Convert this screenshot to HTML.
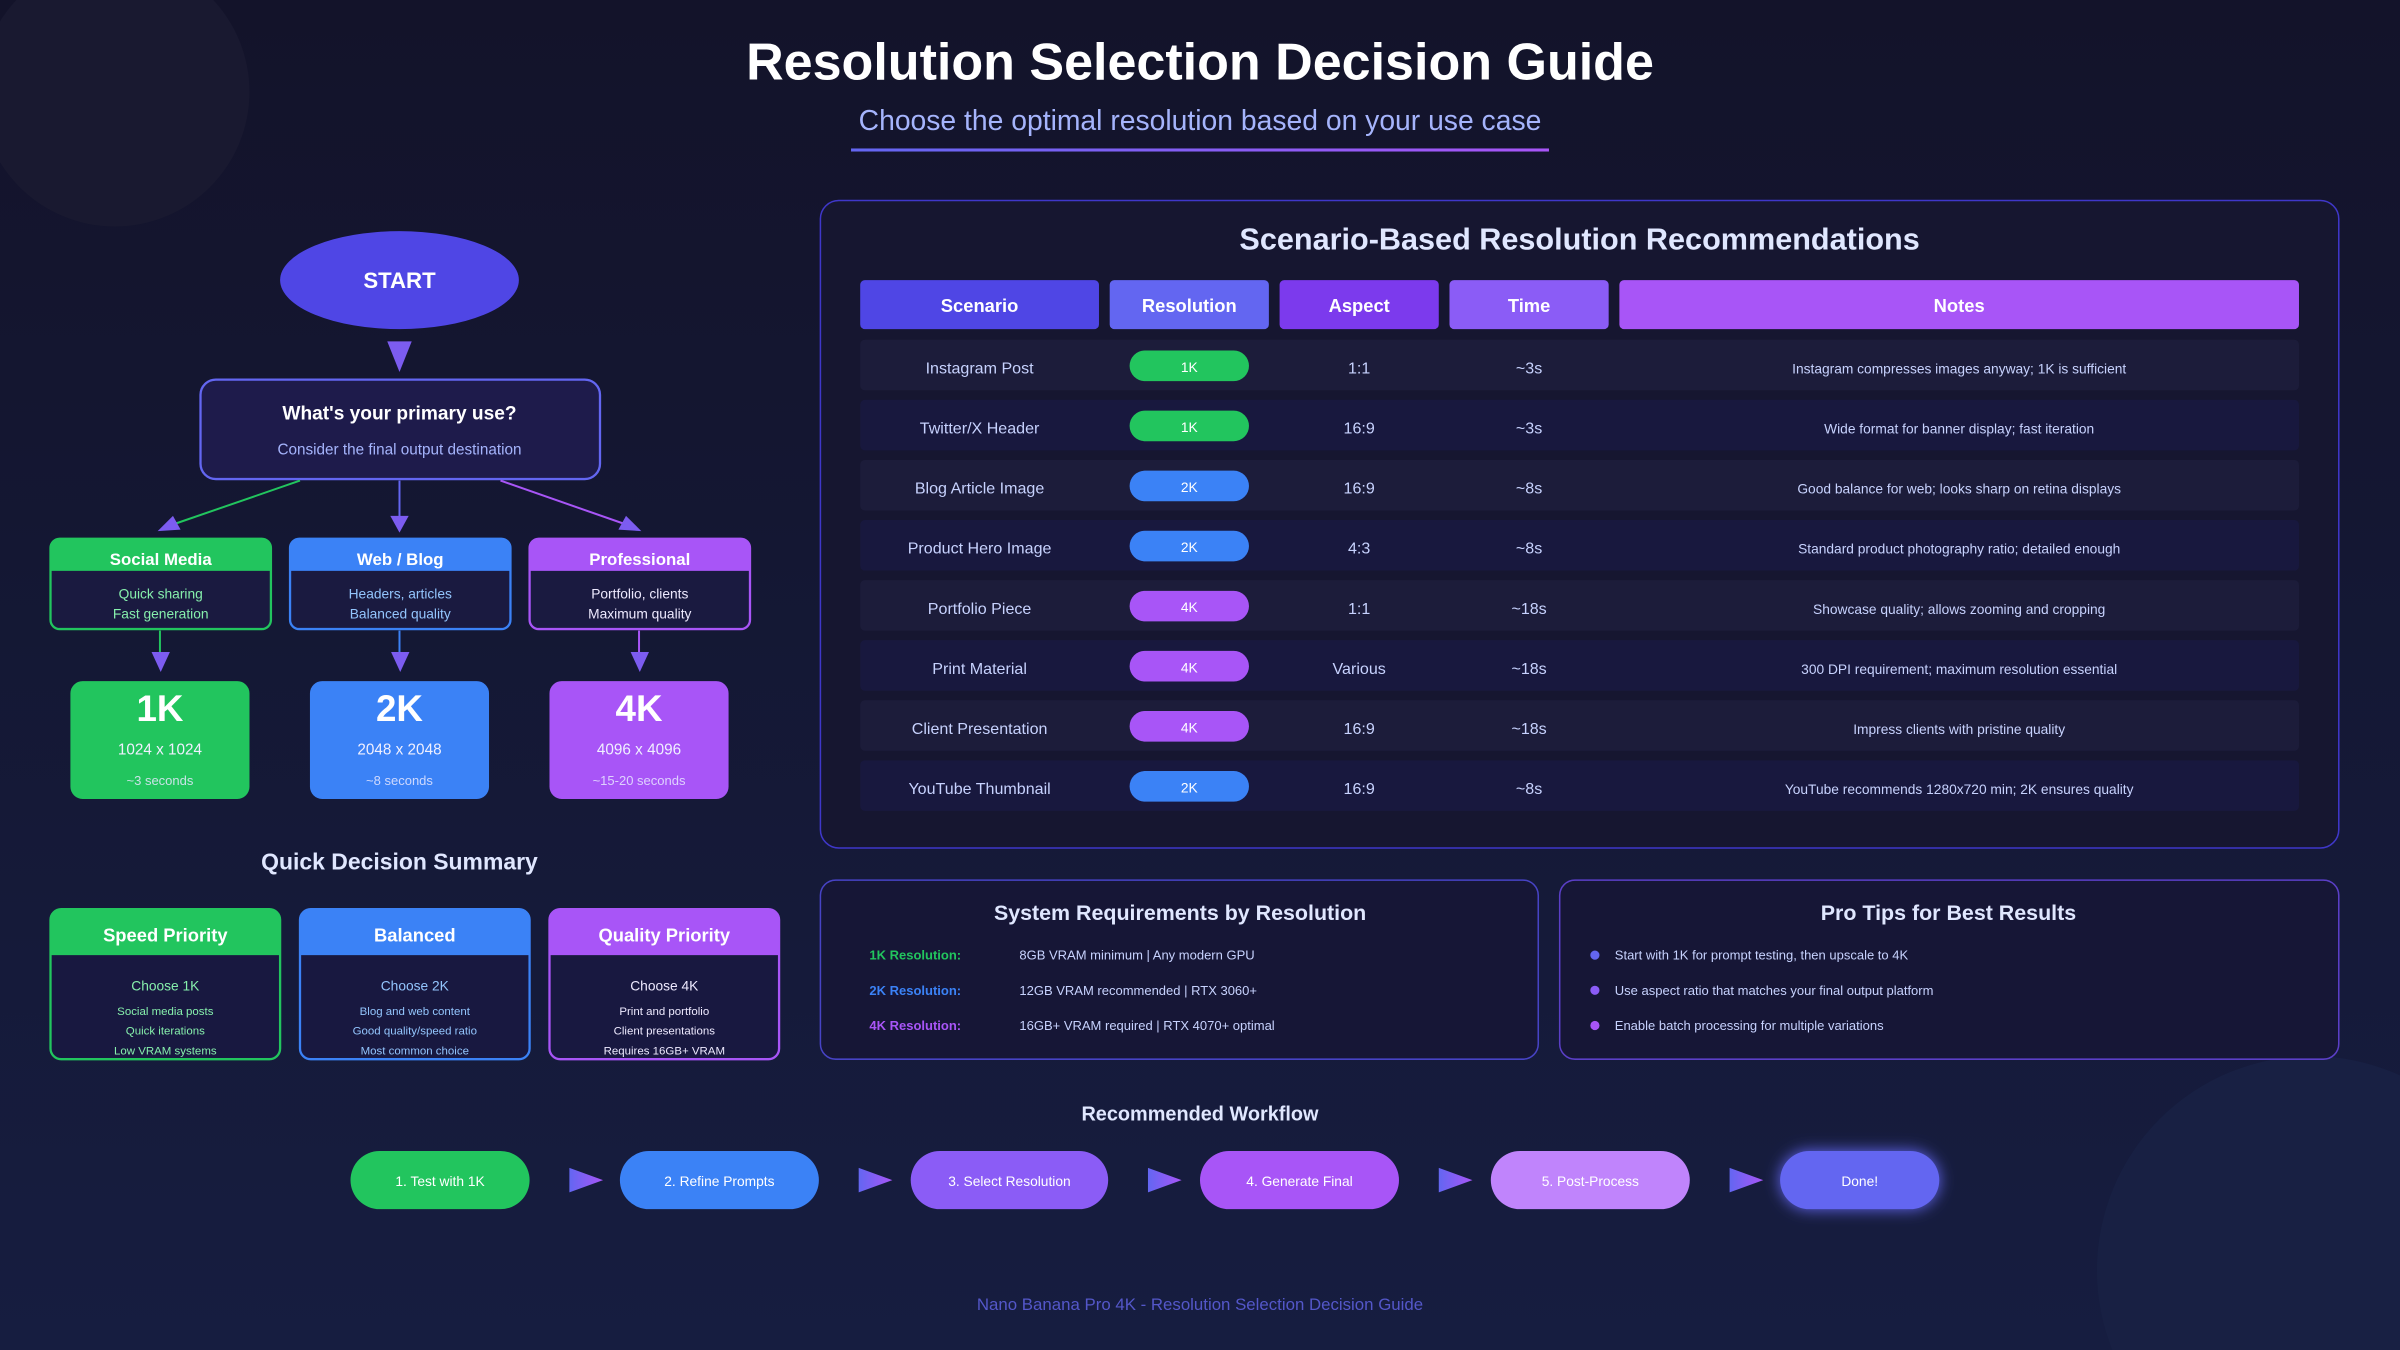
<!DOCTYPE html>
<html><head><meta charset="utf-8"><style>
html,body{margin:0;padding:0;background:#14142c;width:2400px;height:1350px;overflow:hidden;}
svg{display:block;font-family:"Liberation Sans",sans-serif;}
</style></head><body>
<svg id="root" width="2400" height="1350" viewBox="0 0 1568 882" xmlns="http://www.w3.org/2000/svg">
<defs>
<linearGradient id="bg" x1="0" y1="0" x2="0" y2="1"><stop offset="0" stop-color="#13132a"/><stop offset="1" stop-color="#161d40"/></linearGradient>
<linearGradient id="ul" x1="0" x2="1"><stop offset="0" stop-color="#6366f1"/><stop offset="1" stop-color="#a855f7"/></linearGradient>
<linearGradient id="arr" x1="0" x2="1"><stop offset="0" stop-color="#6366f1"/><stop offset="1" stop-color="#a855f7"/></linearGradient>
<filter id="glow" x="-50%" y="-50%" width="200%" height="200%"><feGaussianBlur stdDeviation="5"/></filter>
</defs>
<rect width="1568" height="882" fill="url(#bg)"/>
<circle cx="75" cy="60" r="88" fill="#191930"/>
<circle cx="1510" cy="830" r="140" fill="#182043"/>

<text x="784" y="52" text-anchor="middle" font-size="34" font-weight="bold" fill="#fff">Resolution Selection Decision Guide</text>
<text x="784" y="85" text-anchor="middle" font-size="18.5" fill="#a5b4fc">Choose the optimal resolution based on your use case</text>
<rect x="556" y="97" width="456" height="2" fill="url(#ul)"/>

<g>
<ellipse cx="261" cy="183" rx="78" ry="32" fill="#4f46e5"/>
<text x="261" y="188" text-anchor="middle" font-size="14.5" font-weight="bold" fill="#fff">START</text>
<polygon points="253,223 269,223 261,243" fill="#7c5cf0"/>
<rect x="131" y="248" width="261" height="65" rx="10" fill="#1e1b4b" stroke="#6366f1" stroke-width="1.5"/>
<text x="261" y="274" text-anchor="middle" font-size="12.5" font-weight="bold" fill="#fff">What's your primary use?</text>
<text x="261" y="297" text-anchor="middle" font-size="10" fill="#a5b4fc">Consider the final output destination</text>
<line x1="196" y1="314" x2="112" y2="343" stroke="#22c55e" stroke-width="1.3"/>
<polygon points="103,347 113,337 118,346" fill="#7c5cf0"/>
<line x1="261" y1="314" x2="261" y2="338" stroke="#6366f1" stroke-width="1.3"/>
<polygon points="255,337 267,337 261,348" fill="#7c5cf0"/>
<line x1="327" y1="314" x2="410" y2="343" stroke="#a855f7" stroke-width="1.3"/>
<polygon points="419,347 409,337 404,346" fill="#7c5cf0"/>
</g>
<g id="cats"></g>
<text x="261" y="568" text-anchor="middle" font-size="15" font-weight="bold" fill="#e0e7ff">Quick Decision Summary</text>
<g id="summ"></g>

<rect x="536" y="131" width="992" height="423" rx="12" fill="#161630" stroke="#3f37c9" stroke-width="1"/>
<text x="1032" y="163" text-anchor="middle" font-size="20" font-weight="bold" fill="#e0e7ff">Scenario-Based Resolution Recommendations</text>
<g id="tbl"></g>

<rect x="536" y="575" width="469" height="117" rx="10" fill="#161636" stroke="#4743c5"/>
<text x="771" y="601" text-anchor="middle" font-size="14" font-weight="bold" fill="#e0e7ff">System Requirements by Resolution</text>
<g id="sys"></g>
<rect x="1019" y="575" width="509" height="117" rx="10" fill="#161636" stroke="#5b3fc7"/>
<text x="1273" y="601" text-anchor="middle" font-size="14" font-weight="bold" fill="#e0e7ff">Pro Tips for Best Results</text>
<g id="tips"></g>

<text x="784" y="732" text-anchor="middle" font-size="13" font-weight="bold" fill="#e0e7ff">Recommended Workflow</text>
<g id="flow"></g>
<text x="784" y="856" text-anchor="middle" font-size="11" fill="#5457c9">Nano Banana Pro 4K - Resolution Selection Decision Guide</text>
</svg>
<script>
const NS="http://www.w3.org/2000/svg";
function mk(p,tag,a,txt){const e=document.createElementNS(NS,tag);for(const k in a)e.setAttribute(k,a[k]);if(txt!==undefined)e.textContent=txt;p.appendChild(e);return e;}
const scenarios=["Instagram Post","Twitter/X Header","Blog Article Image","Product Hero Image","Portfolio Piece","Print Material","Client Presentation","YouTube Thumbnail"];
const resolutions=["1K","1K","2K","2K","4K","4K","4K","2K"];
const aspects=["1:1","16:9","16:9","4:3","1:1","Various","16:9","16:9"];
const times=["~3s","~3s","~8s","~8s","~18s","~18s","~18s","~8s"];
const notes=["Instagram compresses images anyway; 1K is sufficient","Wide format for banner display; fast iteration","Good balance for web; looks sharp on retina displays","Standard product photography ratio; detailed enough","Showcase quality; allows zooming and cropping","300 DPI requirement; maximum resolution essential","Impress clients with pristine quality","YouTube recommends 1280x720 min; 2K ensures quality"];
const headers=["Scenario","Resolution","Aspect","Time","Notes"];
const resColor={"1K":"#22c55e","2K":"#3b82f6","4K":"#a855f7"};
const cols=[[562,156,"#4f46e5"],[725,104,"#6366f1"],[836,104,"#7c3aed"],[947,104,"#8b5cf6"],[1058,444,"#a855f7"]];
const tbl=document.getElementById('tbl');
headers.forEach((h,i)=>{const c=cols[i];
 const r=mk(tbl,'rect',{x:c[0],y:183,width:c[1],height:32,rx:3,fill:c[2]});
 
 
 mk(tbl,'text',{x:c[0]+c[1]/2,y:204,'text-anchor':'middle','font-size':12,'font-weight':'bold',fill:'#fff'},h);});
scenarios.forEach((s,i)=>{const y=222+i*39.25;
 const g=mk(tbl,'g',{});
 
 
 mk(g,'rect',{x:562,y:y,width:940,height:33,rx:3,fill:i%2?'#18183e':'#1c1c3a'});
 const ty=y+22;
 mk(g,'text',{x:640,y:ty,'text-anchor':'middle','font-size':10.5,fill:'#c7d2fe'},s);
 const pill=mk(g,'rect',{x:738,y:y+7,width:78,height:20,rx:10,fill:resColor[resolutions[i]]});
 
 
 mk(g,'text',{x:777,y:y+21,'text-anchor':'middle','font-size':9,fill:'#fff'},resolutions[i]);
 mk(g,'text',{x:888,y:ty,'text-anchor':'middle','font-size':10.5,fill:'#c7d2fe'},aspects[i]);
 mk(g,'text',{x:999,y:ty,'text-anchor':'middle','font-size':10.5,fill:'#c7d2fe'},times[i]);
 mk(g,'text',{x:1280,y:ty,'text-anchor':'middle','font-size':9,fill:'#c7d2fe'},notes[i]);
});
const catNames=["Social Media","Web / Blog","Professional"];
const catL1=["Quick sharing","Headers, articles","Portfolio, clients"];
const catL2=["Fast generation","Balanced quality","Maximum quality"];
const catCol=["#22c55e","#3b82f6","#a855f7"];
const catTxt=["#86efac","#93c5fd","#ede9fe"];
const resBig=["1K","2K","4K"];
const resDim=["1024 x 1024","2048 x 2048","4096 x 4096"];
const resTime=["~3 seconds","~8 seconds","~15-20 seconds"];
const cats=document.getElementById('cats');
catNames.forEach((n,i)=>{const x=33+i*156.5,cx=x+72;
 const g=mk(cats,'g',{});
 
 
 mk(g,'rect',{x:x,y:352,width:144,height:59,rx:6,fill:'#1a1a40',stroke:catCol[i],'stroke-width':1.5});
 mk(g,'path',{d:`M${x} 373 V358 a6 6 0 0 1 6 -6 H${x+138} a6 6 0 0 1 6 6 V373 Z`,fill:catCol[i]});
 mk(g,'text',{x:cx,y:369,'text-anchor':'middle','font-size':11,'font-weight':'bold',fill:'#fff'},n);
 mk(g,'text',{x:cx,y:391,'text-anchor':'middle','font-size':9,fill:catTxt[i]},catL1[i]);
 mk(g,'text',{x:cx,y:404,'text-anchor':'middle','font-size':9,fill:catTxt[i]},catL2[i]);
 mk(g,'line',{x1:cx-0.5,y1:412,x2:cx-0.5,y2:428,stroke:catCol[i],'stroke-width':1.3});
 mk(g,'polygon',{points:`${cx-6},426 ${cx+6},426 ${cx},439`,fill:'#7c5cf0'});
 const b=mk(g,'g',{});
 
 
 const bx=46+i*156.5;
 mk(b,'rect',{x:bx,y:445,width:117,height:77,rx:8,fill:catCol[i]});
 mk(b,'text',{x:bx+58.5,y:471,'text-anchor':'middle','font-size':24,'font-weight':'bold',fill:'#fff'},resBig[i]);
 mk(b,'text',{x:bx+58.5,y:493,'text-anchor':'middle','font-size':10,fill:'#f0f0ff'},resDim[i]);
 mk(b,'text',{x:bx+58.5,y:513,'text-anchor':'middle','font-size':8.5,fill:'#e8e8ff','fill-opacity':0.85},resTime[i]);
});
const sumT=["Speed Priority","Balanced","Quality Priority"];
const sumC=["Choose 1K","Choose 2K","Choose 4K"];
const sumL=[["Social media posts","Quick iterations","Low VRAM systems"],["Blog and web content","Good quality/speed ratio","Most common choice"],["Print and portfolio","Client presentations","Requires 16GB+ VRAM"]];
const summ=document.getElementById('summ');
sumT.forEach((t,i)=>{const x=33+i*163,cx=x+75;
 const g=mk(summ,'g',{});
 
 
 mk(g,'rect',{x:x,y:594,width:150,height:98,rx:7,fill:'#181840',stroke:catCol[i],'stroke-width':1.5});
 mk(g,'path',{d:`M${x} 624 V601 a7 7 0 0 1 7 -7 H${x+143} a7 7 0 0 1 7 7 V624 Z`,fill:catCol[i]});
 mk(g,'text',{x:cx,y:615,'text-anchor':'middle','font-size':12,'font-weight':'bold',fill:'#fff'},t);
 mk(g,'text',{x:cx,y:647,'text-anchor':'middle','font-size':9,fill:catTxt[i]},sumC[i]);
 sumL[i].forEach((l,j)=>mk(g,'text',{x:cx,y:663+j*13,'text-anchor':'middle','font-size':7.5,fill:catTxt[i]},l));
});
const sysL=["1K Resolution:","2K Resolution:","4K Resolution:"];
const sysV=["8GB VRAM minimum | Any modern GPU","12GB VRAM recommended | RTX 3060+","16GB+ VRAM required | RTX 4070+ optimal"];
const sys=document.getElementById('sys');
sysL.forEach((l,i)=>{const y=627+i*23;
 mk(sys,'text',{x:568,y:y,'font-size':8.5,'font-weight':'bold',fill:catCol[i]},l);
 mk(sys,'text',{x:666,y:y,'font-size':8.5,fill:'#c7d2fe'},sysV[i]);});
const tipsT=["Start with 1K for prompt testing, then upscale to 4K","Use aspect ratio that matches your final output platform","Enable batch processing for multiple variations"];
const tips=document.getElementById('tips');
tipsT.forEach((t,i)=>{const y=627+i*23;
 mk(tips,'circle',{cx:1042,cy:y-3,r:3,fill:['#6366f1','#8b5cf6','#a855f7'][i]});
 mk(tips,'text',{x:1055,y:y,'font-size':8.5,fill:'#c7d2fe'},t);});
const steps=["1. Test with 1K","2. Refine Prompts","3. Select Resolution","4. Generate Final","5. Post-Process","Done!"];
const stepX=[229,405,595,784,974,1163];
const stepW=[117,130,129,130,130,104];
const stepC=["#22c55e","#3b82f6","#8b5cf6","#a855f7","#c084fc","#6366f1"];
const flow=document.getElementById('flow');
steps.forEach((s,i)=>{
 if(i==5) mk(flow,'rect',{x:stepX[i],y:752,width:stepW[i],height:38,rx:19,fill:'#6366f1',filter:'url(#glow)'});
 const r=mk(flow,'rect',{x:stepX[i],y:752,width:stepW[i],height:38,rx:19,fill:stepC[i]});
 
 
 mk(flow,'text',{x:stepX[i]+stepW[i]/2,y:775,'text-anchor':'middle','font-size':9,fill:'#fff'},s);
 if(i<5){const ax=stepX[i]+stepW[i]+26;
  mk(flow,'polygon',{points:`${ax},763 ${ax+22},771 ${ax},779`,fill:'url(#arr)'});}
});
</script>
</body></html>
